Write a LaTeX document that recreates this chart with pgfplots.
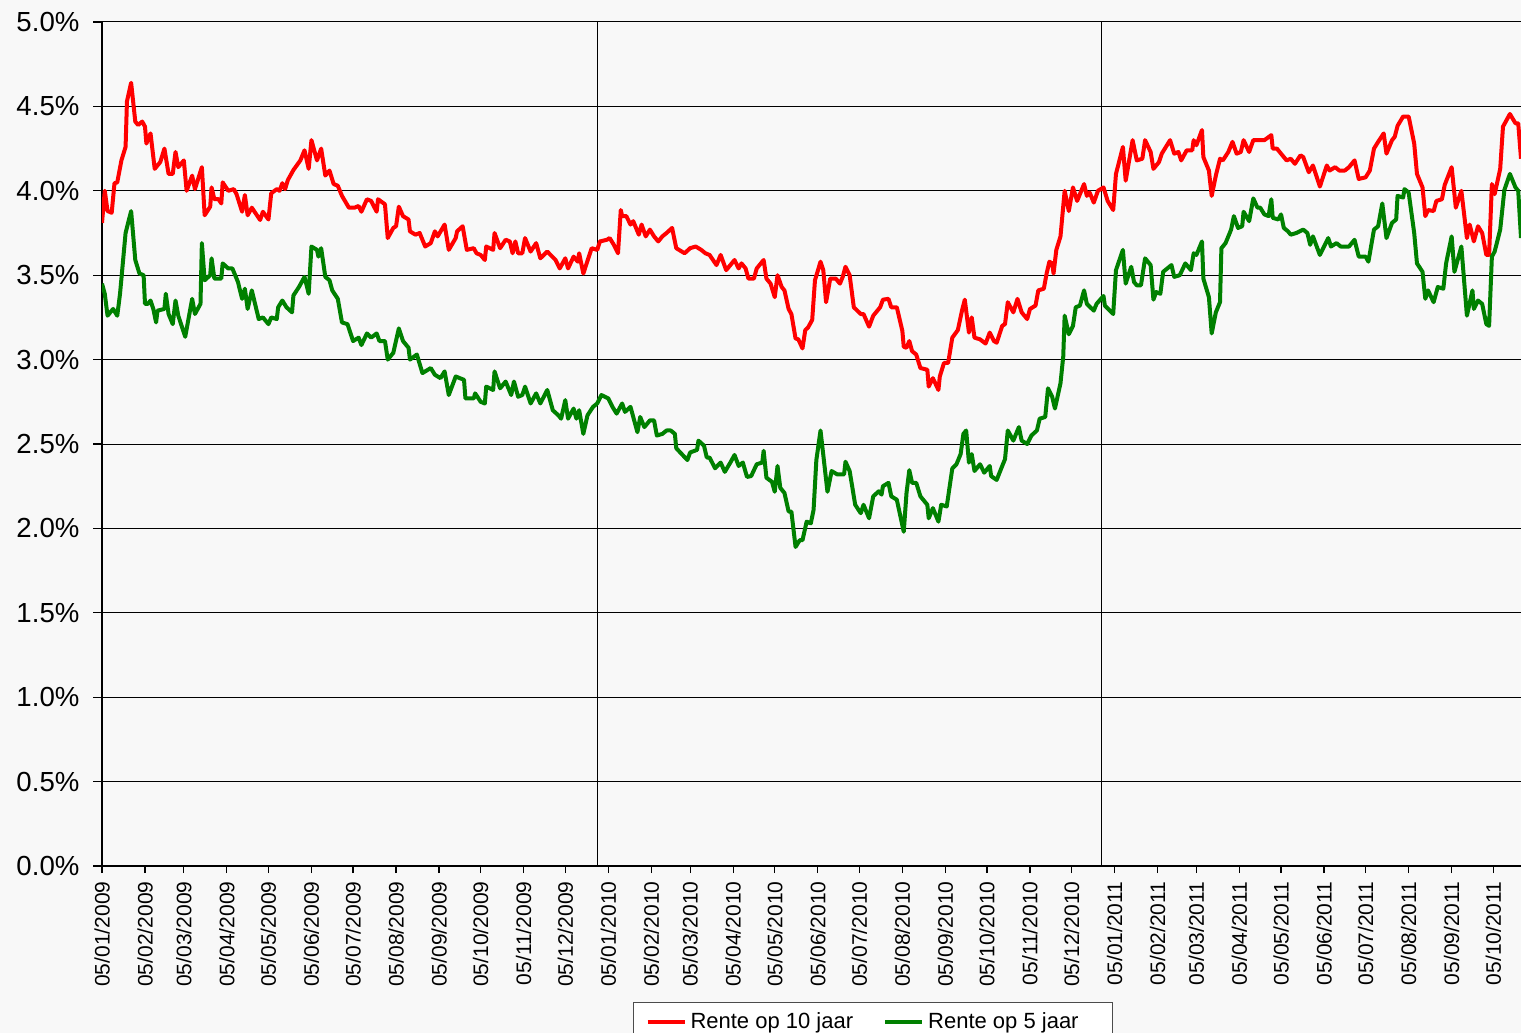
\documentclass[border=0pt]{standalone}
\usepackage{fontspec}
\setmainfont{Liberation Sans}
\usepackage{pgfplots}
\usepackage{pgfplotstable}
\pgfplotsset{compat=1.18}
\definecolor{pagebg}{HTML}{F8F8F8}
\definecolor{tenyr}{HTML}{FF0000}
\definecolor{fiveyr}{HTML}{008000}

% x = days since 05/01/2009, y = rate in %
\pgfplotstableread{
day rate
0 3.81
2 4.00
4 3.88
7 3.87
9 4.045
11 4.05
14 4.18
17 4.26
18 4.53
21 4.64
24 4.41
26 4.39
29 4.41
31 4.38
32 4.28
35 4.34
38 4.13
42 4.17
45 4.25
48 4.10
51 4.10
53 4.23
55 4.14
59 4.18
61 4.00
65 4.09
67 4.01
72 4.14
74 3.855
78 3.906
79 4.02
81 3.95
84 3.95
86 3.925
87 4.05
91 4.00
95 4.01
97 3.98
101 3.876
103 3.975
105 3.855
108 3.90
114 3.827
116 3.876
120 3.83
122 3.985
126 4.01
128 4.00
130 4.045
132 4.01
134 4.064
138 4.123
143 4.18
146 4.24
149 4.13
151 4.30
155 4.18
158 4.25
161 4.09
164 4.12
167 4.04
170 4.03
173 3.97
178 3.90
182 3.90
185 3.91
187 3.876
191 3.95
194 3.94
198 3.876
199 3.95
204 3.92
206 3.72
210 3.78
212 3.79
214 3.906
217 3.85
221 3.83
222 3.76
226 3.74
229 3.75
233 3.67
237 3.69
240 3.76
242 3.73
247 3.80
250 3.65
255 3.72
256 3.76
260 3.79
263 3.65
268 3.66
270 3.63
273 3.62
276 3.59
277 3.67
282 3.65
283 3.75
287 3.66
291 3.71
294 3.70
296 3.63
298 3.70
300 3.63
303 3.63
305 3.72
309 3.64
313 3.69
316 3.60
321 3.64
327 3.59
330 3.54
334 3.60
336 3.54
340 3.61
343 3.58
344 3.63
347 3.51
353 3.66
357 3.65
359 3.70
364 3.71
366 3.72
369 3.68
372 3.63
374 3.886
375 3.85
378 3.85
381 3.80
383 3.82
387 3.74
389 3.80
392 3.73
395 3.77
398 3.73
401 3.70
404 3.73
407 3.75
411 3.78
414 3.66
420 3.63
424 3.66
428 3.67
432 3.65
435 3.63
438 3.62
443 3.56
446 3.62
450 3.53
456 3.59
459 3.54
461 3.57
464 3.54
466 3.48
470 3.48
472 3.54
477 3.59
479 3.48
482 3.45
485 3.37
487 3.50
490 3.43
492 3.41
495 3.30
497 3.27
500 3.125
502 3.12
505 3.066
507 3.175
509 3.19
512 3.235
514 3.47
518 3.58
520 3.53
522 3.34
525 3.48
529 3.48
532 3.45
534 3.49
536 3.55
539 3.50
542 3.31
547 3.27
549 3.27
553 3.195
556 3.26
561 3.31
563 3.355
567 3.36
569 3.31
573 3.31
577 3.17
578 3.076
580 3.07
582 3.11
584 3.05
587 3.03
590 2.95
595 2.94
596 2.84
599 2.89
603 2.82
604 2.90
607 2.98
610 2.98
613 3.13
617 3.175
620 3.29
622 3.355
625 3.16
627 3.25
629 3.13
633 3.12
637 3.095
640 3.16
643 3.11
645 3.10
649 3.20
651 3.21
653 3.34
657 3.28
660 3.36
663 3.28
667 3.24
669 3.30
673 3.32
675 3.41
679 3.42
681 3.51
683 3.58
685 3.57
686 3.51
688 3.65
691 3.73
694 4.00
697 3.88
700 4.02
703 3.94
708 4.04
710 3.97
712 3.99
715 3.93
718 4.00
722 4.02
725 3.94
729 3.886
731 4.10
736 4.26
738 4.06
743 4.30
746 4.18
750 4.19
752 4.30
756 4.23
758 4.13
762 4.17
764 4.22
770 4.30
773 4.22
776 4.23
778 4.18
782 4.24
786 4.24
787 4.30
789 4.27
793 4.36
794 4.20
798 4.12
800 3.97
803 4.09
806 4.19
808 4.18
812 4.23
815 4.29
818 4.22
821 4.23
823 4.30
827 4.23
830 4.30
833 4.30
838 4.30
843 4.33
844 4.25
847 4.25
851 4.21
854 4.18
857 4.19
860 4.16
864 4.21
866 4.20
870 4.11
873 4.15
878 4.025
883 4.15
885 4.12
889 4.14
892 4.12
896 4.12
899 4.14
903 4.18
906 4.07
911 4.08
914 4.12
917 4.25
920 4.29
924 4.34
926 4.22
930 4.30
932 4.32
934 4.385
938 4.44
942 4.44
946 4.28
948 4.10
952 4.02
954 3.85
956 3.886
960 3.88
962 3.94
966 3.95
968 4.035
973 4.14
976 3.90
980 4.00
984 3.72
986 3.80
989 3.70
992 3.79
995 3.75
998 3.62
1000 3.62
1002 4.04
1004 3.98
1008 4.13
1010 4.38
1015 4.455
1019 4.40
1021 4.40
1023 4.19
}\tenyear

\pgfplotstableread{
day rate
0 3.45
2 3.39
4 3.26
8 3.30
11 3.26
13 3.39
17 3.75
21 3.88
24 3.59
27 3.51
30 3.50
31 3.33
33 3.33
35 3.35
37 3.30
39 3.22
40 3.29
45 3.30
46 3.39
48 3.27
51 3.21
53 3.35
55 3.26
60 3.135
65 3.36
67 3.27
71 3.33
72 3.69
74 3.47
78 3.50
79 3.60
81 3.48
86 3.48
87 3.57
91 3.54
94 3.54
98 3.46
101 3.36
103 3.42
105 3.30
108 3.41
113 3.24
116 3.25
120 3.21
122 3.25
126 3.24
127 3.31
130 3.35
133 3.31
137 3.28
138 3.38
142 3.43
146 3.49
149 3.39
151 3.67
155 3.65
156 3.61
158 3.66
161 3.49
164 3.47
166 3.41
170 3.36
173 3.22
177 3.21
181 3.11
185 3.13
187 3.086
191 3.155
194 3.13
198 3.155
200 3.11
204 3.11
206 3.00
210 3.04
214 3.185
217 3.11
221 3.07
222 3.00
227 3.03
231 2.92
237 2.95
240 2.91
244 2.89
247 2.93
250 2.79
255 2.90
258 2.89
261 2.88
262 2.77
268 2.77
269 2.80
273 2.75
276 2.74
277 2.84
282 2.82
283 2.93
287 2.83
291 2.87
295 2.79
297 2.87
300 2.78
303 2.79
305 2.84
309 2.74
313 2.80
316 2.74
321 2.82
325 2.70
329 2.67
331 2.65
334 2.76
336 2.65
340 2.71
342 2.65
344 2.70
347 2.56
350 2.67
354 2.72
357 2.74
360 2.79
365 2.77
368 2.72
371 2.68
375 2.74
377 2.69
381 2.72
383 2.66
386 2.57
388 2.66
391 2.60
395 2.64
398 2.64
400 2.55
404 2.56
407 2.58
410 2.58
413 2.56
414 2.475
422 2.405
424 2.45
429 2.465
430 2.52
434 2.49
436 2.42
438 2.42
442 2.356
446 2.39
449 2.335
453 2.39
456 2.435
459 2.37
462 2.39
465 2.305
468 2.31
472 2.38
476 2.39
477 2.46
479 2.30
483 2.276
485 2.217
487 2.37
489 2.24
492 2.21
495 2.10
497 2.10
500 1.89
503 1.93
505 1.93
508 2.04
511 2.03
513 2.11
515 2.405
518 2.58
523 2.217
526 2.34
530 2.32
535 2.32
536 2.395
539 2.34
543 2.14
547 2.09
549 2.14
553 2.06
556 2.19
560 2.22
562 2.20
563 2.25
567 2.27
569 2.19
573 2.17
578 1.98
580 2.21
582 2.345
584 2.27
587 2.27
590 2.19
595 2.14
596 2.06
599 2.12
603 2.04
605 2.14
609 2.13
613 2.355
616 2.38
619 2.44
621 2.56
623 2.58
625 2.39
627 2.44
629 2.34
633 2.38
636 2.33
640 2.37
641 2.31
645 2.287
649 2.37
651 2.41
653 2.58
657 2.52
661 2.60
663 2.52
667 2.50
670 2.55
674 2.58
676 2.65
680 2.66
682 2.83
685 2.78
687 2.71
691 2.86
693 3.02
694 3.26
697 3.15
700 3.20
702 3.31
705 3.32
708 3.41
710 3.33
715 3.29
717 3.33
722 3.377
723 3.32
729 3.27
731 3.53
736 3.65
738 3.45
742 3.55
744 3.46
746 3.44
749 3.44
752 3.60
756 3.56
758 3.355
760 3.40
763 3.39
765 3.52
771 3.56
773 3.49
777 3.50
781 3.57
785 3.53
787 3.63
789 3.62
793 3.70
794 3.48
798 3.37
800 3.155
803 3.28
806 3.34
807 3.66
810 3.69
814 3.77
816 3.85
819 3.78
822 3.79
823 3.876
827 3.82
830 3.955
833 3.90
835 3.90
838 3.86
841 3.85
843 3.95
844 3.84
848 3.83
850 3.86
852 3.78
855 3.76
857 3.74
861 3.75
866 3.77
869 3.75
871 3.68
873 3.73
878 3.62
884 3.72
886 3.67
890 3.69
893 3.67
899 3.67
903 3.71
906 3.61
911 3.61
913 3.58
917 3.77
920 3.79
923 3.925
926 3.72
930 3.81
933 3.83
934 3.97
938 3.96
939 4.01
942 3.99
946 3.75
948 3.57
952 3.52
954 3.36
956 3.41
960 3.34
963 3.43
967 3.42
969 3.57
973 3.73
975 3.52
980 3.67
984 3.26
988 3.41
989 3.30
992 3.35
995 3.33
998 3.21
1000 3.20
1002 3.61
1004 3.64
1008 3.77
1011 4.005
1015 4.10
1019 4.02
1021 4.00
1023 3.72
}\fiveyear

\begin{document}
\begin{tikzpicture}
\fill[pagebg] (-51pt,-83.5pt) rectangle (709.5pt,433pt);
\begin{axis}[
  at={(0,0)}, anchor=south west,
  scale only axis, width=709.5pt, height=422pt,
  xmin=0, xmax=1023, ymin=0, ymax=5,
  axis background/.style={fill=pagebg},
  axis lines=left,
  axis line style={-, black, line width=0.6pt},
  tick align=outside,
  tick style={black, line width=0.6pt},
  xtick style={/pgfplots/major tick length=3.5pt},
  ytick style={/pgfplots/major tick length=4.5pt},
  ymajorgrids,
  grid style={black, line width=0.5pt},
  ytick={0,0.5,...,5},
  yticklabel={\pgfmathprintnumber[fixed,fixed zerofill,precision=1]{\tick}\%},
  yticklabel style={font=\fontsize{13.8}{15}\selectfont, xshift=-3.5pt},
  xtick={0,31,59,90,120,151,181,212,243,273,304,334,365,396,424,455,485,516,546,577,608,638,669,699,730,761,789,820,850,881,911,942,973,1003},
  xticklabels={05/01/2009,05/02/2009,05/03/2009,05/04/2009,05/05/2009,05/06/2009,05/07/2009,05/08/2009,05/09/2009,05/10/2009,05/11/2009,05/12/2009,05/01/2010,05/02/2010,05/03/2010,05/04/2010,05/05/2010,05/06/2010,05/07/2010,05/08/2010,05/09/2010,05/10/2010,05/11/2010,05/12/2010,05/01/2011,05/02/2011,05/03/2011,05/04/2011,05/05/2011,05/06/2011,05/07/2011,05/08/2011,05/09/2011,05/10/2011},
  xticklabel style={rotate=90, anchor=east, font=\fontsize{10.5}{12}\selectfont},
  /pgf/number format/assume math mode=true,
  legend columns=2,
  legend cell align=left,
  legend style={at={(0.3742,-0.1611)}, anchor=north west, draw=black!70, line width=0.5pt,
    fill=white, font=\fontsize{11}{13}\selectfont, inner xsep=6pt, inner ysep=3pt,
    /tikz/every even column/.append style={column sep=13pt}},
  legend image code/.code={\draw[#1] (0pt,0pt) -- (18.5pt,0pt);},
]
\addplot[black, line width=0.6pt, forget plot] coordinates {(357,0) (357,5)};
\addplot[black, line width=0.6pt, forget plot] coordinates {(720.4,0) (720.4,5)};
\addplot[tenyr, line width=2pt, line join=round] table[x=day, y=rate] {\tenyear};
\addplot[fiveyr, line width=2pt, line join=round] table[x=day, y=rate] {\fiveyear};
\legend{Rente op 10 jaar, Rente op 5 jaar\kern 9pt\null}
\end{axis}
\pgfresetboundingbox
\path[use as bounding box] (-51pt,-83.5pt) rectangle (709.5pt,433pt);
\end{tikzpicture}
\end{document}
